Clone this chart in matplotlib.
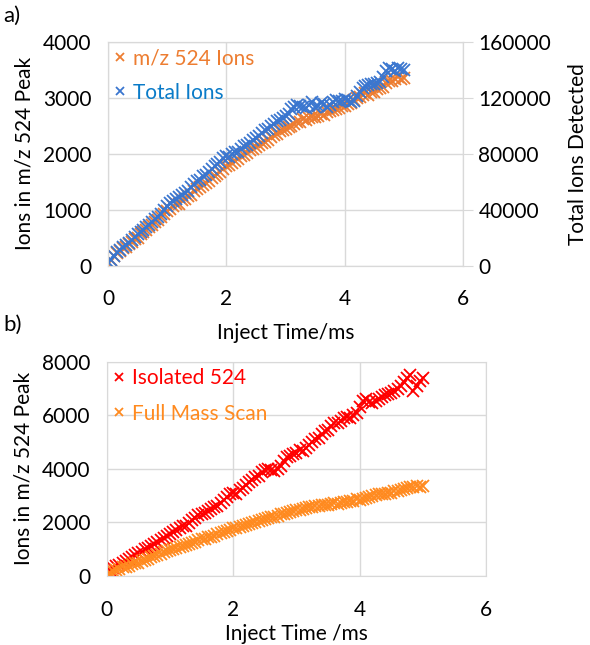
import numpy as np
import matplotlib as mpl
import matplotlib.pyplot as plt
from matplotlib.ticker import MultipleLocator

mpl.rcParams['font.family'] = ['Lato', 'DejaVu Sans']

# inject time (ms)
inject_time = [
    0.00, 0.05, 0.10, 0.15, 0.20, 0.25, 0.30, 0.35, 0.40, 0.45,
    0.50, 0.55, 0.60, 0.65, 0.70, 0.75, 0.80, 0.85, 0.90, 0.95,
    1.00, 1.05, 1.10, 1.15, 1.20, 1.25, 1.30, 1.35, 1.40, 1.45,
    1.50, 1.55, 1.60, 1.65, 1.70, 1.75, 1.80, 1.85, 1.90, 1.95,
    2.00, 2.05, 2.10, 2.15, 2.20, 2.25, 2.30, 2.35, 2.40, 2.45,
    2.50, 2.55, 2.60, 2.65, 2.70, 2.75, 2.80, 2.85, 2.90, 2.95,
    3.00, 3.05, 3.10, 3.15, 3.20, 3.25, 3.30, 3.35, 3.40, 3.45,
    3.50, 3.55, 3.60, 3.65, 3.70, 3.75, 3.80, 3.85, 3.90, 3.95,
    4.00, 4.05, 4.10, 4.15, 4.20, 4.25, 4.30, 4.35, 4.40, 4.45,
    4.50, 4.55, 4.60, 4.65, 4.70, 4.75, 4.80, 4.85, 4.90, 4.95,
    5.00]

# m/z 524 ions (full mass scan)
mz524_ions = [
    40, 110, 170, 230, 270, 320, 330, 380, 430, 470,
    500, 560, 600, 640, 700, 730, 790, 820, 880, 930,
    980, 1010, 1060, 1100, 1110, 1170, 1190, 1240, 1270, 1330,
    1380, 1400, 1440, 1470, 1510, 1560, 1600, 1640, 1680, 1720,
    1780, 1800, 1840, 1870, 1900, 1960, 1980, 2020, 2060, 2090,
    2120, 2150, 2200, 2220, 2250, 2300, 2330, 2350, 2400, 2420,
    2450, 2480, 2500, 2530, 2560, 2570, 2620, 2600, 2640, 2660,
    2650, 2680, 2710, 2700, 2740, 2770, 2780, 2800, 2820, 2860,
    2850, 2890, 2910, 2960, 3000, 3020, 3050, 3080, 3060, 3100,
    3110, 3160, 3180, 3200, 3260, 3300, 3310, 3340, 3380, 3330,
    3350]

# total ions detected
total_ions = [
    3000, 4400, 7200, 9600, 11200, 13600, 14800, 16400, 18400, 20400,
    22400, 24000, 25600, 27600, 29200, 31200, 33200, 35200, 37200, 40000,
    42800, 44800, 46000, 48000, 49200, 50800, 52000, 53600, 56000, 58400,
    60400, 61600, 64000, 64800, 66800, 69200, 71200, 72400, 74000, 76800,
    78400, 78000, 80000, 81600, 81200, 83600, 85600, 86400, 88000, 89600,
    91200, 92400, 94800, 96800, 98000, 99600, 101600, 103200, 104400, 105600,
    107200, 108800, 112400, 113600, 115200, 114400, 113200, 112800, 114800, 116800,
    113600, 114400, 116400, 115600, 113600, 114800, 117200, 118800, 118000, 117600,
    119200, 118400, 117200, 118000, 121600, 124400, 126800, 128400, 129200, 129600,
    130000, 130800, 131200, 134800, 139200, 141200, 140400, 139200, 141600, 140800,
    139600]

# isolated 524
isolated_524 = [
    150, 230, 300, 380, 420, 500, 560, 620, 700, 780,
    850, 900, 990, 1050, 1120, 1200, 1270, 1330, 1420, 1500,
    1580, 1640, 1700, 1800, 1850, 1860, 1970, 2080, 2180, 2260,
    2330, 2350, 2420, 2500, 2560, 2620, 2720, 2850, 2950, 3050,
    3100, 3080, 3200, 3300, 3400, 3500, 3600, 3700, 3750, 3900,
    3950, 4000, 3950, 3920, 3980, 4100, 4300, 4450, 4480, 4550,
    4600, 4700, 4680, 4800, 4900, 5000, 5100, 5150, 5300, 5400,
    5450, 5600, 5700, 5720, 5800, 5900, 5950, 5900, 6000, 6100,
    6300, 6550, 6600, 6500, 6450, 6550, 6600, 6700, 6750, 6800,
    6850, 6900, 7000, 7100, 7250, 7400, 7500, 6900, 7100, 7300,
    7400]

ORANGE = '#ED7D31'
ORANGE_B = '#FF8A1F'
BLUE = '#3A76CF'
BLUE_TXT = '#0A7BC8'
RED = '#FF0000'
GRID = '#D9D9D9'
FS = 15
MS = 8.5
MEW = 1.3

fig = plt.figure(figsize=(5.9, 6.45), dpi=100)


def style_axes(ax):
    ax.grid(True, color=GRID, linewidth=1)
    ax.set_axisbelow(True)
    for s in ax.spines.values():
        s.set_color(GRID)
    ax.tick_params(length=0, labelsize=FS, pad=12)
    ax.tick_params(axis='x', pad=17)


# ---- panel a ----
ax1 = fig.add_axes((0.183, 0.588, 0.602, 0.347))
ax1.plot(inject_time, mz524_ions, 'x', color=ORANGE, ms=MS, mew=MEW, label='m/z 524 Ions')
ax2 = ax1.twinx()
ax2.plot(inject_time, total_ions, 'x', color=BLUE, ms=MS, mew=MEW, label='Total Ions')

ax1.set_xlim(0, 6)
ax1.set_ylim(0, 4000)
ax2.set_ylim(0, 160000)
ax1.xaxis.set_major_locator(MultipleLocator(2))
ax1.yaxis.set_major_locator(MultipleLocator(1000))
ax2.yaxis.set_major_locator(MultipleLocator(40000))
style_axes(ax1)
for s in ax2.spines.values():
    s.set_color(GRID)
ax2.tick_params(axis='y', length=7, color=GRID, labelsize=FS, pad=4)

ax1.set_ylabel('Ions in m/z 524 Peak', fontsize=FS, labelpad=6)
ax2.set_ylabel('Total Ions Detected', fontsize=FS, labelpad=12)
ax1.set_xlabel('Inject Time/ms', fontsize=FS, labelpad=10)

h1, l1 = ax1.get_legend_handles_labels()
h2, l2 = ax2.get_legend_handles_labels()
leg = ax2.legend(h1 + h2, l1 + l2, loc='upper left', frameon=False, fontsize=FS,
                 handlelength=0.6, handletextpad=0.3, borderaxespad=0.1,
                 labelspacing=0.7, borderpad=0.2, markerscale=0.75)
leg.get_texts()[0].set_color(ORANGE)
leg.get_texts()[1].set_color(BLUE_TXT)

fig.text(0.005, 0.975, 'a)', fontsize=FS + 1, va='center')

# ---- panel b ----
ax3 = fig.add_axes((0.181, 0.107, 0.643, 0.332))
ax3.plot(inject_time, isolated_524, 'x', color=RED, ms=MS, mew=MEW, label='Isolated 524')
ax3.plot(inject_time, mz524_ions, 'x', color=ORANGE_B, ms=MS, mew=MEW, label='Full Mass Scan')
ax3.set_xlim(0, 6)
ax3.set_ylim(0, 8000)
ax3.xaxis.set_major_locator(MultipleLocator(2))
ax3.yaxis.set_major_locator(MultipleLocator(2000))
style_axes(ax3)
ax3.set_ylabel('Ions in m/z 524 Peak', fontsize=FS, labelpad=6)
ax3.set_xlabel('Inject Time /ms', fontsize=FS, labelpad=3)
leg3 = ax3.legend(loc='upper left', frameon=False, fontsize=FS,
                  handlelength=0.6, handletextpad=0.3, borderaxespad=0.1,
                  labelspacing=0.75, borderpad=0.2, markerscale=0.75)
leg3.get_texts()[0].set_color(RED)
leg3.get_texts()[1].set_color(ORANGE_B)

fig.text(0.005, 0.497, 'b)', fontsize=FS + 1, va='center')

fig.savefig('out.png', dpi=100)
